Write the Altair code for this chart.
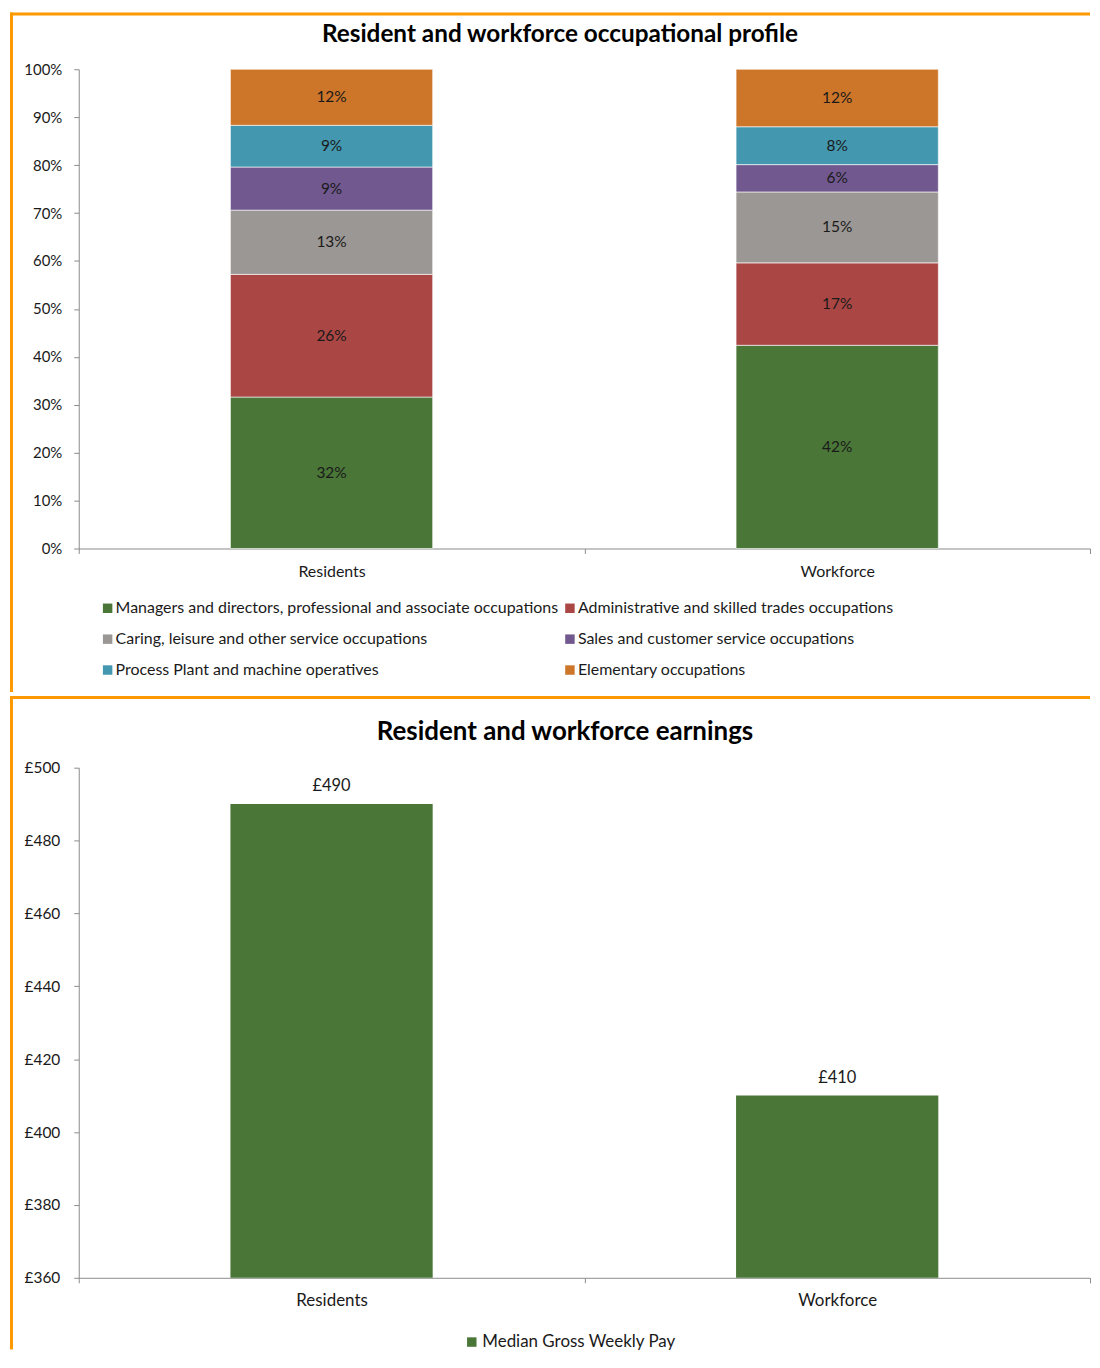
import altair as alt
import pandas as pd

# ---------------- data ----------------
groups = ["Residents", "Workforce"]
occupations = [
    "Managers and directors, professional and associate occupations",
    "Administrative and skilled trades occupations",
    "Caring, leisure and other service occupations",
    "Sales and customer service occupations",
    "Process Plant and machine operatives",
    "Elementary occupations",
]
occ_colors = ["#4A7637", "#AA4644", "#9B9794", "#71588F", "#4398AF", "#CD7529"]
residents_share = [31.6, 25.6, 13.4, 9.0, 8.7, 11.7]
workforce_share = [42.4, 17.2, 14.8, 5.7, 7.9, 12.0]

pay_groups = ["Residents", "Workforce"]
pay_series = "Median Gross Weekly Pay"
median_pay = [490, 410]
pay_ticks = [360, 380, 400, 420, 440, 460, 480, 500]
share_ticks = [0, 10, 20, 30, 40, 50, 60, 70, 80, 90, 100]

top_title = "Resident and workforce occupational profile"
bottom_title = "Resident and workforce earnings"

rows = []
for g, vals in zip(groups, [residents_share, workforce_share]):
    for i, (occ, v) in enumerate(zip(occupations, vals)):
        rows.append({"group": g, "occupation": occ, "order": i, "share": v})
occ_df = pd.DataFrame(rows)
pay_df = pd.DataFrame({"group": pay_groups, "pay": median_pay, "series": [pay_series] * len(pay_groups)})
one = pd.DataFrame({"k": [0]})

FONT = "Lato"
ORANGE = "#FF9900"
AXIS_GRAY = "#8C8C8C"
TXT = "#1A1A1A"
W = 1015

# ---------------- top chart ----------------
base = alt.Chart(occ_df).transform_stack(
    stack="share", groupby=["group"], sort=[alt.SortField("order")], as_=["y0", "y1"]
).transform_calculate(
    mid="(datum.y0 + datum.y1) / 2",
    lab="format(datum.share, '.0f') + '%'",
)

x_top = alt.X(
    "group:N", sort=groups, title=None,
    scale=alt.Scale(paddingInner=0, paddingOuter=0),
    axis=alt.Axis(labelAngle=0, tickBand="extent", domainColor=AXIS_GRAY, tickColor=AXIS_GRAY,
                  tickSize=5, labelPadding=10, labelFontSize=16, labelFont=FONT, labelColor=TXT,
                  grid=False),
)

bars = base.mark_bar(width=alt.RelativeBandSize(0.4), stroke="white", strokeWidth=0.6).encode(
    x=x_top,
    y=alt.Y("y0:Q", title=None, scale=alt.Scale(domain=[0, 100], nice=False),
            axis=alt.Axis(values=share_ticks, labelExpr="datum.value + '%'", grid=False,
                          domainColor=AXIS_GRAY, tickColor=AXIS_GRAY, tickSize=5, labelPadding=12,
                          labelFontSize=15, labelFont=FONT, labelColor=TXT)),
    y2="y1:Q",
    color=alt.Color(
        "occupation:N", scale=alt.Scale(domain=occupations, range=occ_colors), title=None,
        legend=alt.Legend(orient="none", legendX=21, legendY=533, columns=2, direction="horizontal",
                          symbolType="square", symbolSize=90, symbolStrokeWidth=0,
                          labelFont=FONT, labelFontSize=16, labelColor=TXT, labelLimit=600,
                          rowPadding=15, columnPadding=3, labelOffset=0),
    ),
)

labels = base.mark_text(font=FONT, fontSize=15.5, color=TXT).encode(
    x=alt.X("group:N", sort=groups),
    y="mid:Q",
    text="lab:N",
)

top_title_mark = alt.Chart(one).mark_text(
    text=top_title, font=FONT, fontSize=24.4, fontWeight="bold", color="#000000", baseline="middle"
).encode(x=alt.value(483), y=alt.value(-34))

top_left = alt.Chart(one).mark_rule(color=ORANGE, strokeWidth=3).encode(
    x=alt.value(-67.5), y=alt.value(-57), y2=alt.value(625)
)
top_border = alt.Chart(one).mark_rule(color=ORANGE, strokeWidth=3).encode(
    x=alt.value(-69), x2=alt.value(W), y=alt.value(-55.5)
)

top = alt.layer(bars, labels, top_title_mark, top_left, top_border).properties(width=W, height=481)

# ---------------- bottom chart ----------------
pbase = alt.Chart(pay_df)
pbars = pbase.mark_bar(width=alt.RelativeBandSize(0.4), clip=True).encode(
    x=alt.X("group:N", sort=pay_groups, title=None,
            scale=alt.Scale(paddingInner=0, paddingOuter=0),
            axis=alt.Axis(labelAngle=0, tickBand="extent", domainColor=AXIS_GRAY, tickColor=AXIS_GRAY,
                          tickSize=5, labelPadding=10, labelFontSize=17, labelFont=FONT, labelColor=TXT,
                          grid=False)),
    y=alt.Y("pay:Q", title=None, scale=alt.Scale(domain=[360, 500], nice=False, zero=False),
            axis=alt.Axis(values=pay_ticks, labelExpr="'£' + datum.value", grid=False,
                          domainColor=AXIS_GRAY, tickColor=AXIS_GRAY, tickSize=5, labelPadding=14,
                          labelFontSize=15.5, labelFont=FONT, labelColor=TXT)),
    color=alt.Color("series:N", scale=alt.Scale(domain=[pay_series], range=[occ_colors[0]]), title=None,
                    legend=alt.Legend(orient="none", legendX=386, legendY=568, symbolType="square",
                                      symbolSize=90, symbolStrokeWidth=0, labelFont=FONT,
                                      labelFontSize=17, labelColor=TXT, labelOffset=2, labelLimit=400)),
)
ptext = pbase.transform_calculate(pay_lab="'£' + datum.pay").mark_text(
    font=FONT, fontSize=16.5, color=TXT, baseline="bottom", dy=-10
).encode(
    x=alt.X("group:N", sort=pay_groups),
    y="pay:Q",
    text="pay_lab:N",
)

bot_title_mark = alt.Chart(one).mark_text(
    text=bottom_title, font=FONT, fontSize=26, fontWeight="bold", color="#000000", baseline="middle"
).encode(x=alt.value(488), y=alt.value(-36))

bot_left = alt.Chart(one).mark_rule(color=ORANGE, strokeWidth=3).encode(
    x=alt.value(-67.5), y=alt.value(-72), y2=alt.value(584)
)
bot_sep = alt.Chart(one).mark_rule(color=ORANGE, strokeWidth=3).encode(
    x=alt.value(-69), x2=alt.value(W), y=alt.value(-70.5)
)

bottom = alt.layer(pbars, ptext, bot_title_mark, bot_left, bot_sep).properties(width=W, height=512)

chart = (
    alt.vconcat(top, bottom, spacing=0)
    .resolve_scale(x="independent", y="independent", color="independent")
    .resolve_legend(color="independent")
    .properties(padding=0)
    .configure_view(stroke=None)
)

chart.save("out.html", embed_options={"renderer": "svg", "actions": False})
